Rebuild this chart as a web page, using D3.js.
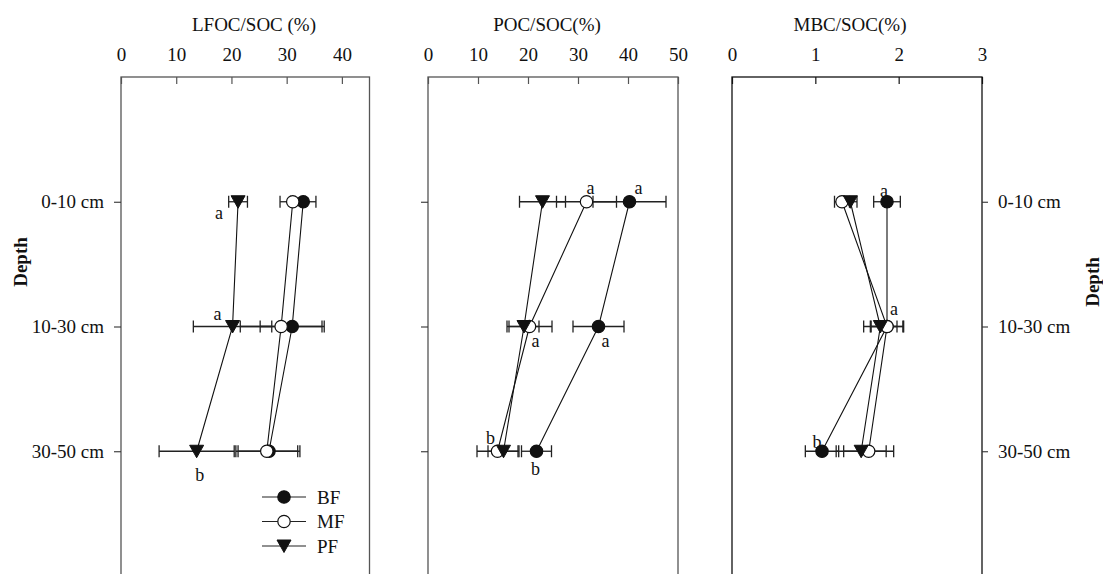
<!DOCTYPE html>
<html>
<head>
<meta charset="utf-8">
<script src="https://cdn.jsdelivr.net/npm/d3@7"></script>
<style>
  html, body { margin: 0; padding: 0; background: #fff; }
  svg { display: block; }
  text { font-family: "Liberation Serif", "Times New Roman", serif; fill: #111; }
</style>
</head>
<body>
<svg id="chart" width="1103" height="574"></svg>
<script>
// ---------------- DATA ----------------
const depths = ["0-10 cm", "10-30 cm", "30-50 cm"];
const seriesNames = ["BF", "MF", "PF"];

// LFOC/SOC (%)
const lfocTicks = [0, 10, 20, 30, 40];
const lfocBF = [33.0, 31.0, 26.8];
const lfocBFerr = [2.3, 5.8, 5.6];
const lfocMF = [31.1, 29.0, 26.4];
const lfocMFerr = [2.3, 7.4, 5.6];
const lfocPF = [21.2, 20.2, 13.7];
const lfocPFerr = [1.7, 7.1, 6.8];
const lfocLetters = [
  { series: "PF", depth: 0, text: "a" },
  { series: "PF", depth: 1, text: "a" },
  { series: "PF", depth: 2, text: "b" }
];

// POC/SOC (%)
const pocTicks = [0, 10, 20, 30, 40, 50];
const pocBF = [40.3, 34.1, 21.7];
const pocBFerr = [7.3, 5.1, 3.0];
const pocMF = [31.7, 20.3, 13.9];
const pocMFerr = [6.0, 4.5, 4.1];
const pocPF = [22.9, 19.2, 15.1];
const pocPFerr = [4.6, 3.0, 3.1];
const pocLetters = [
  { series: "MF", depth: 0, text: "a" },
  { series: "BF", depth: 0, text: "a" },
  { series: "MF", depth: 1, text: "a" },
  { series: "BF", depth: 1, text: "a" },
  { series: "MF", depth: 2, text: "b" },
  { series: "BF", depth: 2, text: "b" }
];

// MBC/SOC (%)
const mbcTicks = [0, 1, 2, 3];
const mbcBF = [1.86, 1.86, 1.08];
const mbcBFerr = [0.16, 0.20, 0.20];
const mbcMF = [1.32, 1.86, 1.64];
const mbcMFerr = [0.09, 0.19, 0.30];
const mbcPF = [1.42, 1.78, 1.55];
const mbcPFerr = [0.08, 0.20, 0.30];
const mbcLetters = [
  { series: "BF", depth: 0, text: "a" },
  { series: "MF", depth: 1, text: "a" },
  { series: "BF", depth: 2, text: "b" }
];

// ---------------- LAYOUT / STYLE ----------------
const svg = d3.select("#chart");
const yTop = 77, yBottom = 576;
const y = d3.scaleLinear().domain([0, 4]).range([yTop, yBottom]);
const depthPos = d => y(d + 1);
const FS = 19;

const panels = [
  {
    title: "LFOC/SOC (%)", titleX: 254, x0: 121, x1: 369.5, domain: [0, 45], ticks: lfocTicks,
    frame: "#555", leftAxis: true, rightAxis: false, leftTicks: true,
    data: { BF: [lfocBF, lfocBFerr], MF: [lfocMF, lfocMFerr], PF: [lfocPF, lfocPFerr] },
    letters: lfocLetters,
    offsets: { "PF0": [-19, 11], "PF1": [-15, -13], "PF2": [3, 24] },
    legend: true
  },
  {
    title: "POC/SOC(%)", titleX: 547, x0: 428, x1: 678, domain: [0, 50], ticks: pocTicks,
    frame: "#555", leftAxis: false, rightAxis: false, leftTicks: true,
    data: { BF: [pocBF, pocBFerr], MF: [pocMF, pocMFerr], PF: [pocPF, pocPFerr] },
    letters: pocLetters,
    offsets: { "MF0": [4, -14], "BF0": [9, -14], "MF1": [6, 14], "BF1": [7, 14], "MF2": [-7, -13], "BF2": [-1, 18] },
    legend: false
  },
  {
    title: "MBC/SOC(%)", titleX: 850, x0: 732, x1: 982, domain: [0, 3], ticks: mbcTicks,
    frame: "#111", leftAxis: false, rightAxis: true, leftTicks: false,
    data: { BF: [mbcBF, mbcBFerr], MF: [mbcMF, mbcMFerr], PF: [mbcPF, mbcPFerr] },
    letters: mbcLetters,
    offsets: { "BF0": [-3, -11], "MF1": [7, -18], "BF2": [-5, -9] },
    legend: false
  }
];

const markerStyle = {
  BF: { fill: "#111", shape: "circle" },
  MF: { fill: "#fff", shape: "circle" },
  PF: { fill: "#111", shape: "triangle" }
};

function drawMarker(g, name, cx, cy) {
  const st = markerStyle[name];
  if (st.shape === "circle") {
    g.append("circle").attr("cx", cx).attr("cy", cy).attr("r", 6.2)
      .attr("fill", st.fill).attr("stroke", "#111").attr("stroke-width", 1.2);
  } else {
    g.append("path").attr("d", `M${cx - 7},${cy - 6} L${cx + 7},${cy - 6} L${cx},${cy + 6.5} Z`)
      .attr("fill", st.fill).attr("stroke", "#111").attr("stroke-width", 1);
  }
}

panels.forEach(p => {
  const x = d3.scaleLinear().domain(p.domain).range([p.x0, p.x1]);
  const g = svg.append("g");

  // frame
  g.append("rect").attr("x", p.x0).attr("y", yTop).attr("width", p.x1 - p.x0).attr("height", yBottom - yTop)
    .attr("fill", "none").attr("stroke", p.frame).attr("stroke-width", 1.3);

  // top axis (ticks inside)
  const axTop = d3.axisTop(x).tickValues(p.ticks).tickSize(-7).tickPadding(16).tickFormat(d3.format("d"));
  const ag = g.append("g").attr("transform", `translate(0,${yTop})`).call(axTop);
  ag.select(".domain").remove();
  ag.selectAll(".tick line").attr("stroke", p.frame).attr("stroke-width", 1.2);
  ag.selectAll(".tick text").attr("font-size", FS).attr("font-family", "Liberation Serif").attr("fill", "#111");

  // title
  g.append("text").attr("x", p.titleX).attr("y", 31).attr("text-anchor", "middle")
    .attr("font-size", FS).text(p.title);

  // left ticks
  if (p.leftTicks) {
    const axL = d3.axisLeft(y).tickValues([1, 2, 3]).tickSize(7).tickPadding(10)
      .tickFormat(d => p.leftAxis ? depths[d - 1] : "");
    const lg = g.append("g").attr("transform", `translate(${p.x0},0)`).call(axL);
    lg.select(".domain").remove();
    lg.selectAll(".tick line").attr("stroke", "#333").attr("stroke-width", 1.1);
    lg.selectAll(".tick text").attr("font-size", FS).attr("font-family", "Liberation Serif").attr("fill", "#111");
  }
  if (p.rightAxis) {
    const axR = d3.axisRight(y).tickValues([1, 2, 3]).tickSize(6).tickPadding(10)
      .tickFormat(d => depths[d - 1]);
    const rg = g.append("g").attr("transform", `translate(${p.x1},0)`).call(axR);
    rg.select(".domain").remove();
    rg.selectAll(".tick line").attr("stroke", "#333").attr("stroke-width", 1.1);
    rg.selectAll(".tick text").attr("font-size", FS).attr("font-family", "Liberation Serif").attr("fill", "#111");
  }

  // connecting lines
  const line = d3.line().x(d => x(d.v)).y(d => depthPos(d.i));
  seriesNames.forEach(s => {
    const vals = p.data[s][0].map((v, i) => ({ v, i }));
    g.append("path").attr("d", line(vals)).attr("fill", "none").attr("stroke", "#111").attr("stroke-width", 1.1);
  });

  // error bars
  seriesNames.forEach(s => {
    const [vals, errs] = p.data[s];
    vals.forEach((v, i) => {
      const cy = depthPos(i);
      const xl = x(v - errs[i]), xr = x(v + errs[i]);
      g.append("line").attr("x1", xl).attr("x2", xr).attr("y1", cy).attr("y2", cy)
        .attr("stroke", "#222").attr("stroke-width", 1.3);
      [xl, xr].forEach(xx => g.append("line").attr("x1", xx).attr("x2", xx)
        .attr("y1", cy - 6).attr("y2", cy + 6).attr("stroke", "#222").attr("stroke-width", 1.3));
    });
  });

  // markers
  seriesNames.forEach(s => {
    const vals = p.data[s][0];
    vals.forEach((v, i) => drawMarker(g, s, x(v), depthPos(i)));
  });

  // significance letters
  p.letters.forEach(l => {
    const v = p.data[l.series][0][l.depth];
    const off = p.offsets[l.series + l.depth];
    g.append("text").attr("x", x(v) + off[0]).attr("y", depthPos(l.depth) + off[1])
      .attr("text-anchor", "middle").attr("dominant-baseline", "central")
      .attr("font-size", 18).text(l.text);
  });

  // legend
  if (p.legend) {
    const lx0 = 262, lx1 = 306, ly0 = 497, lstep = 24.5;
    seriesNames.forEach((s, i) => {
      const ly = ly0 + i * lstep;
      g.append("line").attr("x1", lx0).attr("x2", lx1).attr("y1", ly).attr("y2", ly)
        .attr("stroke", "#222").attr("stroke-width", 1.2);
      drawMarker(g, s, (lx0 + lx1) / 2, ly);
      g.append("text").attr("x", 317).attr("y", ly).attr("dominant-baseline", "central")
        .attr("font-size", FS).text(s);
    });
  }
});

// Depth axis titles
svg.append("text").attr("transform", "translate(20,262) rotate(-90)").attr("text-anchor", "middle")
  .attr("dominant-baseline", "central").attr("font-size", FS).attr("font-weight", "bold").text("Depth");
svg.append("text").attr("transform", "translate(1092,282) rotate(-90)").attr("text-anchor", "middle")
  .attr("dominant-baseline", "central").attr("font-size", FS).attr("font-weight", "bold").text("Depth");
</script>
</body>
</html>
